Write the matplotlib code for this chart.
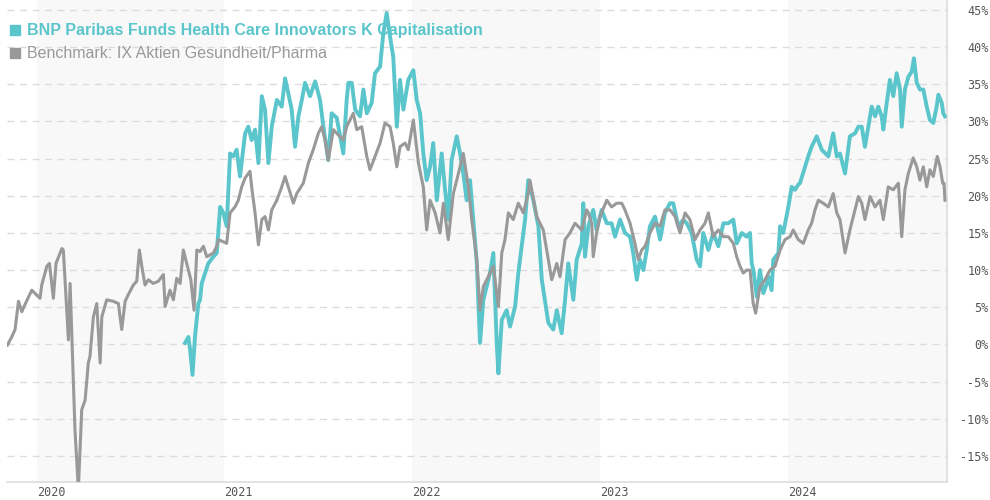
import matplotlib
matplotlib.use("Agg")
import matplotlib.pyplot as plt
from matplotlib.patches import Rectangle

# decimal year, performance in %
fund_t = [2020.790, 2020.808, 2020.817, 2020.830, 2020.843, 2020.861, 2020.870, 2020.879, 2020.897, 2020.914,
          2020.941, 2020.959, 2020.968, 2020.977, 2020.994, 2021.012, 2021.030, 2021.047, 2021.065, 2021.083,
          2021.110, 2021.127, 2021.145, 2021.163, 2021.181, 2021.199, 2021.216, 2021.234, 2021.252, 2021.279,
          2021.305, 2021.323, 2021.340, 2021.358, 2021.376, 2021.394, 2021.412, 2021.429, 2021.456, 2021.483,
          2021.509, 2021.527, 2021.553, 2021.571, 2021.598, 2021.633, 2021.651, 2021.660, 2021.678, 2021.696,
          2021.722, 2021.740, 2021.758, 2021.784, 2021.802, 2021.829, 2021.846, 2021.864, 2021.882, 2021.899,
          2021.918, 2021.935, 2021.953, 2021.979, 2022.006, 2022.024, 2022.042, 2022.059, 2022.077, 2022.095,
          2022.112, 2022.131, 2022.157, 2022.175, 2022.192, 2022.210, 2022.237, 2022.255, 2022.272, 2022.290,
          2022.308, 2022.325, 2022.344, 2022.361, 2022.379, 2022.414, 2022.432, 2022.450, 2022.459, 2022.477,
          2022.503, 2022.521, 2022.548, 2022.565, 2022.583, 2022.601, 2022.618, 2022.645, 2022.672, 2022.690,
          2022.725, 2022.751, 2022.770, 2022.796, 2022.814, 2022.831, 2022.858, 2022.876, 2022.903, 2022.911,
          2022.920, 2022.938, 2022.964, 2022.982, 2023.009, 2023.036, 2023.062, 2023.080, 2023.107, 2023.133,
          2023.160, 2023.177, 2023.196, 2023.213, 2023.231, 2023.249, 2023.266, 2023.293, 2023.320, 2023.346,
          2023.373, 2023.390, 2023.417, 2023.444, 2023.462, 2023.488, 2023.515, 2023.533, 2023.550, 2023.577,
          2023.603, 2023.630, 2023.657, 2023.683, 2023.710, 2023.728, 2023.755, 2023.781, 2023.799, 2023.808,
          2023.817, 2023.835, 2023.852, 2023.870, 2023.888, 2023.897, 2023.914, 2023.923, 2023.950, 2023.959,
          2023.976, 2024.003, 2024.021, 2024.038, 2024.056, 2024.065, 2024.092, 2024.109, 2024.127, 2024.154,
          2024.181, 2024.216, 2024.242, 2024.261, 2024.278, 2024.305, 2024.331, 2024.358, 2024.376, 2024.394,
          2024.411, 2024.429, 2024.447, 2024.465, 2024.482, 2024.500, 2024.509, 2024.527, 2024.544, 2024.562,
          2024.580, 2024.598, 2024.607, 2024.624, 2024.642, 2024.660, 2024.672, 2024.687, 2024.704, 2024.722,
          2024.740, 2024.757, 2024.775, 2024.793, 2024.802, 2024.820, 2024.828, 2024.837]
fund_v = [0.2, 1.0, -0.7, -4.1, 1.0, 5.5, 6.0, 8.2, 9.6, 10.9,
          11.8, 12.3, 15.4, 18.5, 17.7, 15.9, 25.7, 25.3, 26.2, 22.6,
          28.4, 29.3, 27.5, 28.9, 24.4, 33.4, 31.6, 24.4, 29.3, 32.9,
          32.0, 35.8, 33.8, 31.6, 26.6, 30.7, 32.9, 35.2, 33.4, 35.4,
          32.9, 29.3, 24.8, 31.1, 30.5, 25.7, 32.9, 35.2, 35.2, 31.6,
          30.7, 34.3, 31.1, 32.5, 36.5, 37.4, 41.9, 44.6, 41.4, 38.7,
          29.3, 35.6, 31.6, 35.6, 36.9, 32.9, 31.1, 25.7, 22.1, 23.9,
          27.1, 19.4, 25.7, 20.8, 16.8, 24.8, 28.0, 25.7, 23.0, 19.4,
          22.1, 16.8, 10.9, 0.2, 6.0, 9.6, 12.3, 0.2, -3.9, 3.3,
          4.6, 2.4, 5.1, 9.6, 13.2, 16.8, 22.1, 19.4, 15.9, 8.7,
          2.9, 2.0, 4.6, 1.5, 6.0, 10.9, 6.0, 11.4, 13.6, 19.0,
          11.8, 15.9, 18.1, 15.4, 18.1, 16.3, 16.3, 14.5, 16.8, 15.0,
          14.5, 12.3, 8.7, 11.4, 10.0, 12.7, 15.9, 17.2, 14.1, 17.7,
          19.0, 19.0, 15.9, 16.8, 16.3, 15.0, 11.4, 10.5, 15.0, 12.7,
          15.0, 13.2, 16.3, 16.3, 16.8, 13.6, 15.0, 14.5, 15.0, 10.9,
          10.0, 6.4, 10.0, 6.9, 8.2, 9.1, 7.3, 11.4, 12.3, 15.9,
          15.0, 18.5, 21.2, 20.8, 21.5, 21.7, 23.9, 25.3, 26.6, 28.0,
          26.2, 25.3, 28.4, 25.3, 25.7, 23.0, 28.0, 28.4, 29.3, 29.3,
          26.6, 29.3, 32.0, 30.7, 32.0, 30.7, 28.9, 32.5, 35.6, 33.4,
          36.5, 34.3, 29.3, 34.3, 36.0, 36.7, 38.5, 35.2, 34.3, 34.3,
          32.0, 30.2, 29.8, 32.0, 33.6, 32.5, 31.1, 30.7]

bench_t = [2019.844, 2019.867, 2019.885, 2019.903, 2019.921, 2019.929, 2019.974, 2020.018, 2020.027, 2020.054,
           2020.068, 2020.089, 2020.103, 2020.134, 2020.142, 2020.169, 2020.178, 2020.204, 2020.222, 2020.240,
           2020.258, 2020.275, 2020.284, 2020.302, 2020.320, 2020.338, 2020.347, 2020.373, 2020.408, 2020.435,
           2020.453, 2020.471, 2020.488, 2020.515, 2020.533, 2020.547, 2020.560, 2020.577, 2020.595, 2020.621,
           2020.648, 2020.675, 2020.684, 2020.710, 2020.728, 2020.746, 2020.764, 2020.781, 2020.799, 2020.821,
           2020.838, 2020.853, 2020.870, 2020.888, 2020.906, 2020.941, 2020.959, 2020.968, 2020.994, 2021.012,
           2021.030, 2021.056, 2021.074, 2021.092, 2021.110, 2021.136, 2021.145, 2021.163, 2021.181, 2021.199,
           2021.216, 2021.234, 2021.252, 2021.279, 2021.305, 2021.323, 2021.340, 2021.367, 2021.385, 2021.420,
           2021.447, 2021.473, 2021.500, 2021.518, 2021.536, 2021.553, 2021.580, 2021.598, 2021.633, 2021.651,
           2021.686, 2021.705, 2021.731, 2021.758, 2021.775, 2021.802, 2021.829, 2021.855, 2021.882, 2021.899,
           2021.918, 2021.935, 2021.962, 2021.979, 2022.006, 2022.033, 2022.059, 2022.077, 2022.095, 2022.122,
           2022.148, 2022.166, 2022.192, 2022.219, 2022.246, 2022.272, 2022.299, 2022.317, 2022.344, 2022.361,
           2022.379, 2022.405, 2022.432, 2022.459, 2022.477, 2022.494, 2022.512, 2022.538, 2022.565, 2022.592,
           2022.618, 2022.627, 2022.663, 2022.698, 2022.716, 2022.743, 2022.770, 2022.787, 2022.814, 2022.840,
           2022.867, 2022.903, 2022.929, 2022.938, 2022.956, 2022.964, 2022.982, 2023.000, 2023.036, 2023.062,
           2023.089, 2023.116, 2023.133, 2023.160, 2023.186, 2023.204, 2023.222, 2023.240, 2023.266, 2023.293,
           2023.320, 2023.346, 2023.373, 2023.400, 2023.426, 2023.453, 2023.479, 2023.506, 2023.533, 2023.559,
           2023.577, 2023.603, 2023.630, 2023.657, 2023.683, 2023.710, 2023.728, 2023.746, 2023.763, 2023.781,
           2023.799, 2023.816, 2023.829, 2023.843, 2023.852, 2023.879, 2023.905, 2023.932, 2023.959, 2023.985,
           2024.012, 2024.029, 2024.056, 2024.083, 2024.109, 2024.127, 2024.145, 2024.163, 2024.189, 2024.216,
           2024.242, 2024.261, 2024.278, 2024.305, 2024.331, 2024.358, 2024.376, 2024.394, 2024.411, 2024.438,
           2024.465, 2024.491, 2024.509, 2024.535, 2024.562, 2024.589, 2024.607, 2024.624, 2024.642, 2024.668,
           2024.687, 2024.704, 2024.722, 2024.740, 2024.757, 2024.775, 2024.796, 2024.811, 2024.825, 2024.832,
           2024.837]
bench_v = [-0.1, 1.0, 2.0, 5.8, 4.4, 4.9, 7.3, 6.2, 8.0, 10.5,
           10.9, 6.2, 10.9, 12.9, 12.7, 0.6, 8.2, -11.5, -19.5, -8.8,
           -7.5, -2.5, -1.6, 3.7, 5.5, -2.5, 3.7, 6.0, 5.8, 5.5,
           2.0, 5.8, 6.7, 8.0, 8.5, 12.7, 10.5, 8.0, 8.7, 8.2,
           8.5, 9.4, 5.1, 7.3, 6.0, 8.9, 8.2, 12.7, 10.9, 8.7,
           4.6, 12.7, 12.5, 13.2, 11.8, 12.3, 13.2, 14.1, 13.8, 13.6,
           17.7, 18.5, 19.4, 21.2, 22.4, 23.3, 21.2, 17.7, 13.4, 16.8,
           17.2, 15.4, 18.1, 19.4, 21.2, 22.6, 21.2, 19.0, 20.3, 21.7,
           24.4, 26.2, 28.4, 29.3, 27.5, 24.8, 28.9, 28.4, 27.5, 29.3,
           31.1, 28.9, 29.3, 25.3, 23.5, 25.3, 27.1, 29.8, 29.3, 27.1,
           23.9, 26.6, 27.1, 26.2, 30.2, 24.4, 21.2, 15.4, 19.4, 17.7,
           15.0, 19.0, 14.1, 20.3, 23.0, 25.7, 21.2, 16.8, 11.4, 4.6,
           7.8, 9.1, 10.5, 5.1, 12.3, 14.1, 17.7, 16.8, 19.0, 17.7,
           20.3, 22.1, 17.2, 15.4, 12.7, 8.7, 10.9, 9.1, 14.1, 15.0,
           16.3, 15.4, 18.1, 17.7, 16.3, 11.8, 15.0, 17.2, 19.4, 18.5,
           19.0, 19.0, 18.1, 16.3, 13.6, 11.4, 12.7, 13.2, 15.0, 16.3,
           15.9, 18.1, 18.1, 17.2, 15.0, 17.7, 16.8, 14.1, 15.4, 16.3,
           17.7, 14.5, 15.4, 14.5, 14.5, 13.6, 11.8, 10.5, 9.6, 10.0,
           10.0, 5.5, 4.2, 6.4, 7.8, 8.7, 10.0, 10.5, 12.7, 14.1,
           14.5, 15.4, 14.1, 13.6, 15.4, 16.3, 18.1, 19.4, 19.0, 18.5,
           20.3, 17.7, 16.8, 12.3, 15.4, 18.1, 19.9, 19.0, 16.8, 19.9,
           18.5, 19.4, 16.8, 21.2, 20.8, 21.7, 14.5, 20.8, 23.0, 25.1,
           23.9, 22.1, 23.9, 21.2, 23.5, 22.6, 25.3, 23.9, 21.7, 21.7,
           19.4]

years = [2020, 2021, 2022, 2023, 2024]
y_ticks = [-15, -10, -5, 0, 5, 10, 15, 20, 25, 30, 35, 40, 45]

fund_name = "BNP Paribas Funds Health Care Innovators K Capitalisation"
bench_name = "Benchmark: IX Aktien Gesundheit/Pharma"

teal = "#5bc5cc"
grey = "#999999"

fig = plt.figure(figsize=(9.9, 5.0), dpi=100)
ax = fig.add_axes([7 / 990, 18 / 500, 940 / 990, 482 / 500])

x_min, x_max = 2019.842, 2024.848
ax.set_xlim(x_min, x_max)
ax.set_ylim(-18.52, 46.35)

# shaded every other year
for i, y in enumerate(years):
    if i % 2 == 0:
        ax.axvspan(y, min(y + 1, x_max), facecolor="#f8f8f8", edgecolor="none", zorder=0)

for t in y_ticks:
    ax.axhline(t, color="#dcdcdc", lw=1, dashes=(5, 4), zorder=1)

ax.plot(fund_t, fund_v, color=teal, lw=2.8, zorder=3)
ax.plot(bench_t, bench_v, color=grey, lw=2.2, zorder=4)

for s in ["left", "top"]:
    ax.spines[s].set_visible(False)
for s in ["right", "bottom"]:
    ax.spines[s].set_color("#dddddd")
    ax.spines[s].set_linewidth(1.2)

ax.yaxis.tick_right()
ax.set_yticks(y_ticks)
ax.set_yticklabels([f"{t}%" for t in y_ticks])
ax.tick_params(axis="y", length=0, pad=30, labelsize=8.5, labelcolor="#555555")
for lab in ax.get_yticklabels():
    lab.set_horizontalalignment("right")
    lab.set_fontfamily("DejaVu Sans Mono")

ax.set_xticks(years)
ax.set_xticklabels([str(y) for y in years])
ax.tick_params(axis="x", length=0, pad=3, labelsize=8.5, labelcolor="#555555")
for lab in ax.get_xticklabels():
    lab.set_horizontalalignment("left")
    lab.set_fontfamily("DejaVu Sans Mono")

# legend, top left
fig.add_artist(Rectangle((10 / 990, 1 - 35 / 500), 10 / 990, 10 / 500,
                         transform=fig.transFigure, color=teal, zorder=10))
fig.text(27 / 990, 1 - 30 / 500, fund_name, color=teal, fontsize=11.5, fontweight="bold",
         family="Liberation Sans", va="center", zorder=10)
fig.add_artist(Rectangle((10 / 990, 1 - 58 / 500), 10 / 990, 10 / 500,
                         transform=fig.transFigure, color=grey, zorder=10))
fig.text(27 / 990, 1 - 53 / 500, bench_name, color=grey, fontsize=11.5,
         family="Liberation Sans", va="center", zorder=10)

fig.savefig("out.png", dpi=100)
